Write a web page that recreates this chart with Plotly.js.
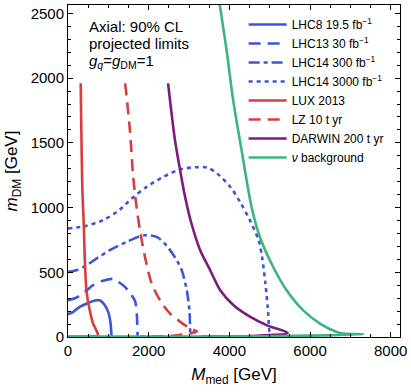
<!DOCTYPE html>
<html>
<head>
<meta charset="utf-8">
<script src="https://cdn.plot.ly/plotly-3.0.1.min.js"></script>
<style>
  html, body { margin: 0; padding: 0; background: #fff; }
  #chart { width: 411px; height: 392px; }
</style>
</head>
<body>
<div id="chart"></div>
<script>
// curves, M_med [GeV] vs m_DM [GeV]
var lhc8_x = [0, 124, 291, 498, 706, 800, 913, 1000, 1050, 1070, 1080];
var lhc8_y = [176, 193, 232, 263, 284, 282, 245, 190, 120, 50, 0];

var lhc13_x = [0, 200, 415, 622, 870, 1130, 1300, 1440, 1560, 1660, 1700, 1716, 1726];
var lhc13_y = [284, 303, 348, 400, 435, 448, 415, 378, 330, 280, 206, 104, 0];

var lhc14a_x = [0, 209, 458, 706, 1037, 1453, 1784, 1950, 2199, 2448, 2700, 2820, 2945, 3010, 3030];
var lhc14a_y = [503, 516, 554, 606, 671, 735, 779, 787, 773, 705, 590, 516, 361, 206, 0];

var lhc14b_x = [0, 415, 871, 1250, 1580, 1950, 2363, 2779, 3194, 3443, 3692, 4022, 4271, 4520, 4726, 4811, 4893, 4950, 4998];
var lhc14b_y = [838, 856, 903, 975, 1070, 1160, 1237, 1295, 1312, 1310, 1264, 1160, 1040, 895, 748, 619, 413, 232, 0];

var lux_x = [315, 357, 390, 415, 457, 539, 622, 721, 746, 600, 300, 0];
var lux_y = [1960, 1135, 877, 619, 361, 206, 104, 39, 8, 5, 3, 2];

var lz_x = [1418, 1535, 1617, 1701, 1784, 1908, 2075, 2281, 2530, 2736, 3027, 3194, 2600, 1800];
var lz_y = [1960, 1598, 1237, 1000, 825, 619, 413, 284, 181, 129, 65, 44, 10, 5];

var darwin_x = [2481, 2652, 2779, 2902, 3040, 3277, 3525, 3774, 4104, 4520, 4935, 5446, 4500, 3300];
var darwin_y = [1960, 1521, 1289, 1083, 900, 670, 516, 361, 245, 155, 90, 31, 8, 3];

var nu_x = [3720, 3930, 4094, 4303, 4550, 4757, 5087, 5419, 5831, 6246, 6660, 6824, 7320, 5000, 2000, 0];
var nu_y = [2650, 2217, 1830, 1444, 1005, 773, 541, 361, 206, 104, 39, 26, 21, 5, 3, 3];

var blue = 'rgb(59, 86, 216)';
var red = 'rgb(214, 62, 66)';
var purple = 'rgb(125, 26, 125)';
var green = 'rgb(60, 180, 128)';

function curve(x, y, name, color, dash) {
    return {
        x: x, y: y, name: name,
        type: 'scatter', mode: 'lines',
        line: {color: color, width: 2.6, dash: dash, shape: 'spline', smoothing: 0.8}
    };
}

var data = [
    curve(lhc8_x, lhc8_y, 'LHC8 19.5 fb<sup>\u22121</sup>', blue, 'solid'),
    curve(lhc13_x, lhc13_y, 'LHC13 30 fb<sup>\u22121</sup>', blue, '12px,7px'),
    curve(lhc14a_x, lhc14a_y, 'LHC14 300 fb<sup>\u22121</sup>', blue, '11px,4px,4px,4px'),
    curve(lhc14b_x, lhc14b_y, 'LHC14 3000 fb<sup>\u22121</sup>', blue, '4px,4px'),
    curve(lux_x, lux_y, 'LUX 2013', red, 'solid'),
    curve(lz_x, lz_y, 'LZ 10 t yr', red, '12px,7px'),
    curve(darwin_x, darwin_y, 'DARWIN 200 t yr', purple, 'solid'),
    curve(nu_x, nu_y, '<i>\u03bd</i> background', green, 'solid')
];

var tickfont = {family: 'Liberation Sans, Arial, sans-serif', size: 15, color: '#000'};

var layout = {
    width: 411,
    height: 392,
    margin: {l: 68, r: 11, t: 5, b: 55},
    paper_bgcolor: '#fff',
    plot_bgcolor: '#fff',
    font: {family: 'Liberation Sans, Arial, sans-serif', color: '#000'},
    showlegend: true,
    legend: {
        x: 0.529, y: 0.985, xanchor: 'left', yanchor: 'top',
        bgcolor: 'rgba(0,0,0,0)',
        font: {size: 12, color: '#000'},
        itemwidth: 38,
        tracegroupgap: 0
    },
    xaxis: {
        range: [0, 8230],
        tickvals: [0, 2000, 4000, 6000, 8000],
        ticks: 'inside', ticklen: 5, tickcolor: '#000',
        minor: {dtick: 500, ticks: 'inside', ticklen: 3, tickcolor: '#000', showgrid: false},
        showline: true, linecolor: '#000', linewidth: 1, mirror: 'allticks',
        showgrid: false, zeroline: false,
        tickfont: tickfont,
        title: {text: '<i>M</i><sub>med</sub> [GeV]', font: {size: 17, color: '#000'}, standoff: 10}
    },
    yaxis: {
        range: [0, 2565],
        tickvals: [0, 500, 1000, 1500, 2000, 2500],
        ticks: 'inside', ticklen: 5, tickcolor: '#000',
        minor: {dtick: 100, ticks: 'inside', ticklen: 3, tickcolor: '#000', showgrid: false},
        showline: true, linecolor: '#000', linewidth: 1, mirror: 'allticks',
        showgrid: false, zeroline: false,
        tickfont: tickfont,
        title: {text: '<i>m</i><sub>DM</sub> [GeV]', font: {size: 17, color: '#000'}, standoff: 8}
    },
    annotations: [
        {text: 'Axial: 90% CL', xref: 'paper', yref: 'paper', x: 0.056, y: 0.934,
         xanchor: 'left', yanchor: 'middle', showarrow: false, font: {size: 15}},
        {text: 'projected limits', xref: 'paper', yref: 'paper', x: 0.056, y: 0.884,
         xanchor: 'left', yanchor: 'middle', showarrow: false, font: {size: 15}},
        {text: '<i>g<sub>q</sub></i>=<i>g</i><sub>DM</sub>=1', xref: 'paper', yref: 'paper', x: 0.056, y: 0.830,
         xanchor: 'left', yanchor: 'middle', showarrow: false, font: {size: 15}}
    ]
};

Plotly.newPlot('chart', data, layout, {displayModeBar: false, staticPlot: true});
</script>
</body>
</html>
